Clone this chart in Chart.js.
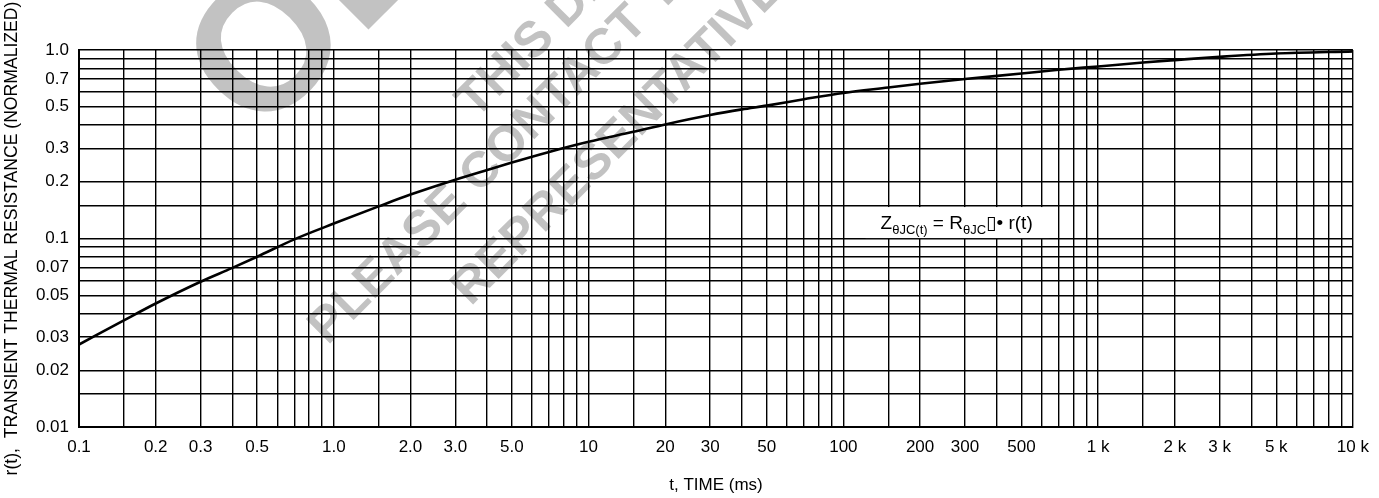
<!DOCTYPE html>
<html>
<head>
<meta charset="utf-8">
<script src="https://cdn.jsdelivr.net/npm/chart.js@4.4.1/dist/chart.umd.min.js"></script>
<style>
html,body{margin:0;padding:0;background:#fff;}
#wrap{width:1379px;height:498px;position:relative;}
</style>
</head>
<body>
<div id="wrap"><canvas id="c" width="1379" height="498"></canvas></div>
<script>
// ---- data ----
const timeMs = [0.1,0.15,0.2,0.3,0.4,0.5,0.7,1,1.5,2,3,4,5,7,10,15,20,30,40,50,70,100,150,200,300,500,700,1000,1500,2000,3000,5000,10000];
const rNorm  = [0.0274,0.0368,0.0452,0.059,0.0698,0.080,0.099,0.120,0.148,0.171,0.205,0.231,0.253,0.288,0.326,0.368,0.403,0.452,0.484,0.507,0.548,0.592,0.632,0.662,0.702,0.750,0.785,0.818,0.858,0.884,0.920,0.958,0.983];

const xGridValues = [0.1,0.15,0.2,0.3,0.4,0.5,0.6,0.7,0.8,0.9,
                     1,1.5,2,3,4,5,6,7,8,9,
                     10,15,20,30,40,50,60,70,80,90,
                     100,150,200,300,400,500,600,700,800,900,
                     1000,1500,2000,3000,4000,5000,6000,7000,8000,9000,
                     10000];
const xTickLabels = ['0.1','','0.2','0.3','','0.5','','','','',
                     '1.0','','2.0','3.0','','5.0','','','','',
                     '10','','20','30','','50','','','','',
                     '100','','200','300','','500','','','','',
                     '1 k','','2 k','3 k','','5 k','','','','',
                     '10 k'];
const yGridValues = [0.01,0.015,0.02,0.03,0.04,0.05,0.06,0.07,0.08,0.09,
                     0.1,0.15,0.2,0.3,0.4,0.5,0.6,0.7,0.8,0.9,1.0];
const yTickLabels = ['0.01','','0.02','0.03','','0.05','','0.07','','',
                     '0.1','','0.2','0.3','','0.5','','0.7','','','1.0'];

const xTitle = 't, TIME (ms)';
const yTitle = 'r(t),  TRANSIENT THERMAL RESISTANCE (NORMALIZED)';
const annotationAt = {t: 140, r: 0.1215};
const watermarkLines = ['OBSOLETE', 'THIS DEVICE', 'PLEASE CONTACT YOUR', 'REPRESENTATIVE'];

const FONT = '"Liberation Sans", Arial, Helvetica, sans-serif';

// watermark behind everything
const watermarkPlugin = {
  id: 'watermark',
  beforeDraw(chart) {
    const ctx = chart.ctx;
    ctx.save();
    ctx.fillStyle = '#fff';
    ctx.fillRect(0, 0, chart.width, chart.height);
    ctx.fillStyle = '#c2c2c2';
    ctx.textAlign = 'left';
    ctx.textBaseline = 'middle';
    const put = (text, size, x, y) => {
      ctx.save();
      ctx.translate(x, y);
      ctx.rotate(-Math.PI / 4);
      ctx.font = 'bold ' + size + 'px ' + FONT;
      ctx.fillText(text, 0, 0);
      ctx.restore();
    };
    put(watermarkLines[0], 185, 222, 104);
    put(watermarkLines[1], 50, 466, 110);
    put(watermarkLines[2], 50, 318, 336);
    put(watermarkLines[3], 50, 461, 297);
    ctx.restore();
  }
};

// formula label with white box
const annotationPlugin = {
  id: 'formula',
  afterDraw(chart) {
    const ctx = chart.ctx;
    const xs = chart.scales.x, ys = chart.scales.y;
    const x0 = xs.getPixelForValue(annotationAt.t);
    const yc = ys.getPixelForValue(annotationAt.r);
    const pieces = [
      {t: 'Z', s: 19, dy: 0},
      {t: '\u03B8JC(t)', s: 13, dy: 5},
      {t: ' = R', s: 19, dy: 0},
      {t: '\u03B8JC', s: 13, dy: 5},
      {t: '\u25AF', s: 19, dy: 0, fam: '"DejaVu Sans"'},
      {t: '\u2022', s: 19, dy: 0},
      {t: ' r(t)', s: 19, dy: 0}
    ];
    ctx.save();
    let w = 0;
    pieces.forEach(p => { ctx.font = p.s + 'px ' + (p.fam || FONT); p.w = ctx.measureText(p.t).width; w += p.w; });
    ctx.fillStyle = '#fff';
    ctx.fillRect(x0 - 15, yc - 15.5, w + 32, 31);
    ctx.fillStyle = '#000';
    ctx.textBaseline = 'alphabetic';
    ctx.textAlign = 'left';
    let x = x0;
    const base = yc + 6;
    pieces.forEach(p => {
      ctx.font = p.s + 'px ' + (p.fam || FONT);
      ctx.fillText(p.t, x, base + p.dy);
      x += p.w;
    });
    ctx.restore();
  }
};

const tickFont = {family: FONT, size: 17};
const titleFont = {family: FONT, size: 17.6};

new Chart(document.getElementById('c').getContext('2d'), {
  type: 'line',
  data: {
    datasets: [{
      data: timeMs.map((t, i) => ({x: t, y: rNorm[i]})),
      borderColor: '#000',
      borderWidth: 2.6,
      pointRadius: 0,
      fill: false,
      cubicInterpolationMode: 'monotone'
    }]
  },
  options: {
    responsive: false,
    animation: false,
    devicePixelRatio: 1,
    layout: {padding: {left: 0, right: 24, top: 50, bottom: 0}},
    plugins: {legend: {display: false}, tooltip: {enabled: false}},
    scales: {
      x: {
        type: 'logarithmic',
        min: 0.1, max: 10000,
        afterBuildTicks: s => { s.ticks = xGridValues.map(v => ({value: v})); },
        afterFit: s => { s.height = 71; },
        grid: {color: '#000', lineWidth: 1.4, drawTicks: false},
        border: {color: '#000', width: 2},
        ticks: {autoSkip: false, maxRotation: 0, minRotation: 0, padding: 10, color: '#000', font: tickFont,
                callback: (v, i) => xTickLabels[i]},
        title: {display: true, text: xTitle, color: '#000', font: tickFont, padding: {top: 0, bottom: 2}}
      },
      y: {
        type: 'logarithmic',
        min: 0.01, max: 1.0,
        afterBuildTicks: s => { s.ticks = yGridValues.map(v => ({value: v})); },
        afterFit: s => { s.width = 79; },
        grid: {color: '#000', lineWidth: 1.4, drawTicks: false},
        border: {color: '#000', width: 2},
        ticks: {autoSkip: false, padding: 10, color: '#000', font: tickFont,
                callback: (v, i) => yTickLabels[i]},
        title: {display: true, text: yTitle, color: '#000', font: titleFont, padding: {top: 2, bottom: 0}}
      }
    }
  },
  plugins: [watermarkPlugin, annotationPlugin]
});
</script>
</body>
</html>
